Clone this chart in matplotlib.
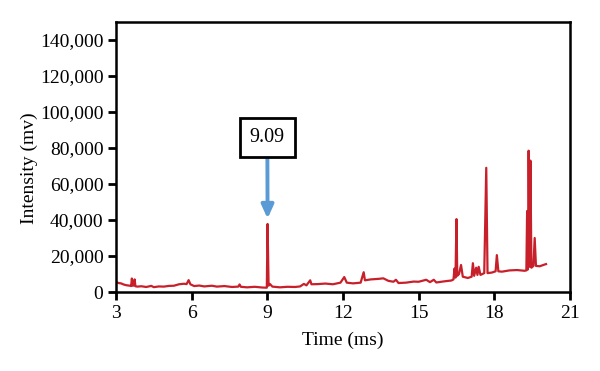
import matplotlib
matplotlib.use("Agg")
import matplotlib.pyplot as plt
from matplotlib.ticker import FuncFormatter

plt.rcParams['font.family'] = ['Liberation Serif', 'DejaVu Serif']

time_ms = [3.00, 3.10, 3.20, 3.30, 3.40, 3.55, 3.60, 3.63, 3.66, 3.70, 3.74, 3.77, 3.85,
           4.0, 4.2, 4.4, 4.5, 4.7, 4.9, 5.1, 5.3, 5.5, 5.7, 5.8, 5.88, 5.95,
           6.1, 6.3, 6.5, 6.8, 7.0, 7.3, 7.6, 7.85, 7.9, 7.95, 8.2, 8.5, 8.8, 8.98,
           9.01, 9.05, 9.1, 9.2, 9.5, 9.8, 10.1, 10.3, 10.45, 10.55, 10.7, 10.75,
           11.0, 11.3, 11.6, 11.9, 12.05, 12.15, 12.4, 12.7, 12.82, 12.87,
           13.1, 13.4, 13.6, 13.8, 14.0, 14.1, 14.2, 14.5, 14.8, 15.0, 15.3, 15.45,
           15.6, 15.7, 16.0, 16.3, 16.38, 16.42, 16.46, 16.5, 16.53, 16.6, 16.68,
           16.75, 16.95, 17.1, 17.15, 17.2, 17.28, 17.33, 17.38, 17.45, 17.6,
           17.68, 17.73, 17.9, 18.05, 18.1, 18.16, 18.3, 18.6, 18.9, 19.2, 19.27,
           19.3, 19.33, 19.36, 19.40, 19.43, 19.47, 19.55, 19.6, 19.65, 19.8,
           20.0, 20.05]
intensity = [5600, 5000, 4800, 4200, 3800, 3500, 3300, 7500, 3500, 3600, 7000, 3200, 3000,
             3200, 2800, 3400, 2700, 3100, 3000, 3400, 3500, 4300, 4600, 4400, 6600, 4300,
             3300, 3600, 3100, 3500, 3000, 3300, 2800, 3000, 4200, 2900, 2600, 2900, 2500, 2400,
             37800, 3500, 4500, 3000, 2600, 2900, 2800, 3100, 4500, 3700, 6500, 4300,
             4400, 4700, 4300, 5200, 8300, 5200, 4800, 5200, 11000, 6500,
             7000, 7300, 7600, 6200, 5700, 6800, 5000, 5200, 5800, 5700, 6800, 5500,
             6800, 5300, 5900, 6400, 7000, 13000, 8000, 40500, 9000, 10000, 15000,
             8500, 7800, 8500, 16000, 9000, 13500, 9500, 14000, 9500, 10500,
             69000, 10500, 10800, 11500, 20500, 11500, 11300, 12000, 12200, 11800, 12000,
             45000, 12500, 78500, 14000, 73000, 13500, 14500, 30000, 14500, 14300,
             15300, 15500]

x_ticks = [3, 6, 9, 12, 15, 18, 21]
y_ticks = [0, 20000, 40000, 60000, 80000, 100000, 120000, 140000]
annot_label = "9.09"
annot_peak = (9.01, 40800)
annot_text_pos = (9.0, 85800)

fig = plt.figure(figsize=(6, 3.71), dpi=100)
ax = fig.add_axes([0.1933, 0.2129, 0.7567, 0.7278])

ax.plot(time_ms, intensity, color='#c8202a', lw=1.6)

ax.set_xlim(3, 21)
ax.set_ylim(0, 150000)
ax.set_xticks(x_ticks)
ax.set_yticks(y_ticks)
ax.yaxis.set_major_formatter(FuncFormatter(lambda v, p: f"{int(v):,}"))
ax.tick_params(direction='out', length=6, width=2.0, labelsize=14, colors='black', pad=3)
for s in ax.spines.values():
    s.set_linewidth(1.8)

ax.set_xlabel("Time (ms)", fontsize=14, labelpad=7)
ax.set_ylabel("Intensity (mv)", fontsize=14)
ax.yaxis.set_label_coords(-0.172, 0.46)

ax.annotate(annot_label, xy=annot_peak, xytext=annot_text_pos,
            ha='center', va='center', fontsize=14.5,
            bbox=dict(boxstyle='square,pad=0.5', fc='white', ec='black', lw=2.0),
            arrowprops=dict(arrowstyle='-|>,head_width=0.25,head_length=0.55',
                            color='#5b9bd5', lw=2.8, shrinkA=0, shrinkB=0))

fig.savefig("out.png", dpi=100)
